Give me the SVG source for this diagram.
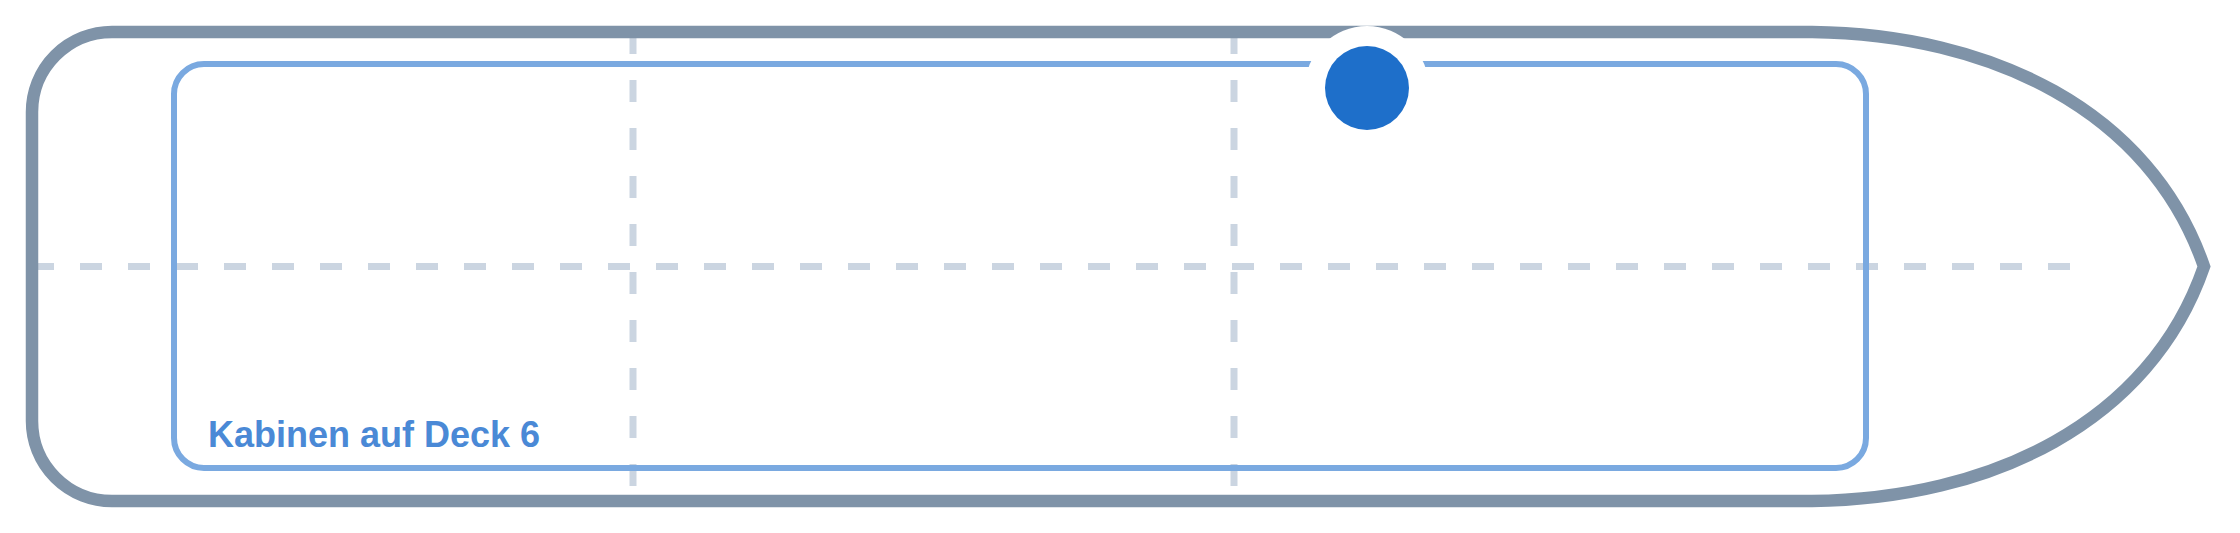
<svg xmlns="http://www.w3.org/2000/svg" width="2240" height="533" viewBox="0 0 2240 533">
<style>
.grid{stroke:#cbd5e1;stroke-width:7;stroke-dasharray:22 26;fill:none}
.hull{fill:none;stroke:#7f93a8;stroke-width:12.5;stroke-linejoin:miter}
.zone{fill:none;stroke:#7aa9e0;stroke-width:6}
.label{font-family:"Liberation Sans",Arial,sans-serif;font-weight:bold;font-size:36px;fill:#4a89d6}
</style>
<rect width="2240" height="533" fill="#ffffff"/>
<g id="grid">
<line class="grid" x1="32" y1="266.5" x2="2072" y2="266.5"/>
<line class="grid" x1="633" y1="32" x2="633" y2="501"/>
<line class="grid" x1="1234" y1="32" x2="1234" y2="501"/>
</g>
<g id="hull">
<path class="hull" d="M32,112 A80,80 0 0 1 112,32 L1812,32 C1990,34 2150,110 2204,266.5 C2150,423 1990,499 1812,501 L112,501 A80,80 0 0 1 32,421 Z"/>
</g>
<g id="deck6">
<rect class="zone" x="174" y="64" width="1692" height="404" rx="30"/>
<text class="label" x="208" y="447">Kabinen auf Deck 6</text>
</g>
<g id="marker">
<circle cx="1367" cy="88" r="62" fill="#ffffff"/>
<circle cx="1367" cy="88" r="42" fill="#1e6fca"/>
</g>
</svg>
